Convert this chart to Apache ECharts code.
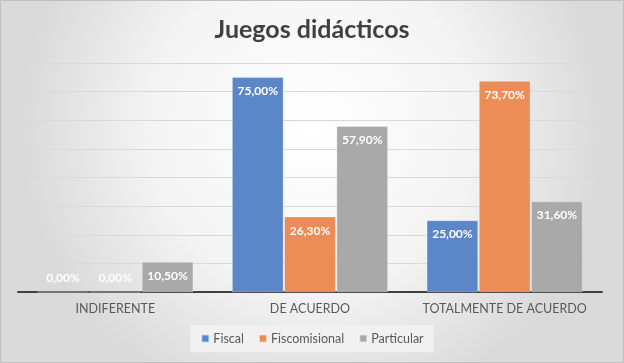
<!DOCTYPE html>
<html><head><meta charset="utf-8">
<script src="https://cdn.jsdelivr.net/npm/echarts@6/dist/echarts.min.js"></script>
<style>html,body{margin:0;padding:0;background:#fff}#c{width:624px;height:363px}</style>
</head><body><div id="c"></div>
<script>
const categories = ['INDIFERENTE', 'DE ACUERDO', 'TOTALMENTE DE ACUERDO'];
const fiscal = [0, 75.0, 25.0];
const fiscomisional = [0, 26.3, 73.7];
const particular = [10.5, 57.9, 31.6];
const seriesNames = ['Fiscal', 'Fiscomisional', 'Particular'];
const colors = ['#5b87c9', '#ec8c56', '#a9a9a9'];

const fmt = p => p.value.toFixed(2).replace('.', ',') + '%';
function items(arr) {
  return arr.map(v => v === 0 ? {value: v, label: {position: 'insideBottom', distance: 8}} : v);
}
const chart = echarts.init(document.getElementById('c'));
chart.setOption({
  backgroundColor: {type: 'radial', x: 0.5, y: 0.35, r: 0.8,
    colorStops: [{offset: 0, color: '#ffffff'}, {offset: 0.55, color: '#f4f4f4'}, {offset: 1, color: '#dadada'}]},
  title: {text: 'Juegos didácticos', left: 'center', top: 12,
    textStyle: {fontFamily: 'Lato', fontWeight: 'bold', fontSize: 25, color: '#404040'}},
  grid: {left: 18, right: 22, top: 63, bottom: 71},
  legend: {data: seriesNames, bottom: 11, left: 'center', itemWidth: 8, itemHeight: 8, itemGap: 14,
    icon: 'rect', backgroundColor: 'rgba(242,242,242,0.9)', padding: [7, 10],
    textStyle: {fontFamily: 'Lato', fontSize: 12.5, color: '#595959', padding: [0, 0, 0, -1]}},
  xAxis: {type: 'category', data: categories,
    axisLine: {lineStyle: {color: '#404040', width: 2}}, axisTick: {show: false},
    axisLabel: {interval: 0, fontFamily: 'Lato', fontSize: 12.5, color: '#595959', margin: 10}},
  yAxis: {type: 'value', min: 0, max: 80, interval: 10,
    axisLabel: {show: false}, axisLine: {show: false}, axisTick: {show: false},
    splitLine: {lineStyle: {color: '#d9d9d9', width: 1}}},
  series: [fiscal, fiscomisional, particular].map((d, i) => ({
    name: seriesNames[i], type: 'bar', data: items(d), barGap: '2%', barCategoryGap: '20%',
    itemStyle: {color: colors[i], borderColor: 'rgba(255,255,255,0.6)', borderWidth: 0.5},
    label: {show: true, position: 'insideTop', distance: 8, formatter: fmt,
      color: '#ffffff', fontFamily: 'Lato', fontWeight: 'bold', fontSize: 12}
  })),
  graphic: [{type: 'rect', shape: {x: 0.5, y: 0.5, width: 623, height: 362},
    style: {fill: 'none', stroke: '#c0c0c0', lineWidth: 1}, silent: true, z: 100}]
});
</script></body></html>
